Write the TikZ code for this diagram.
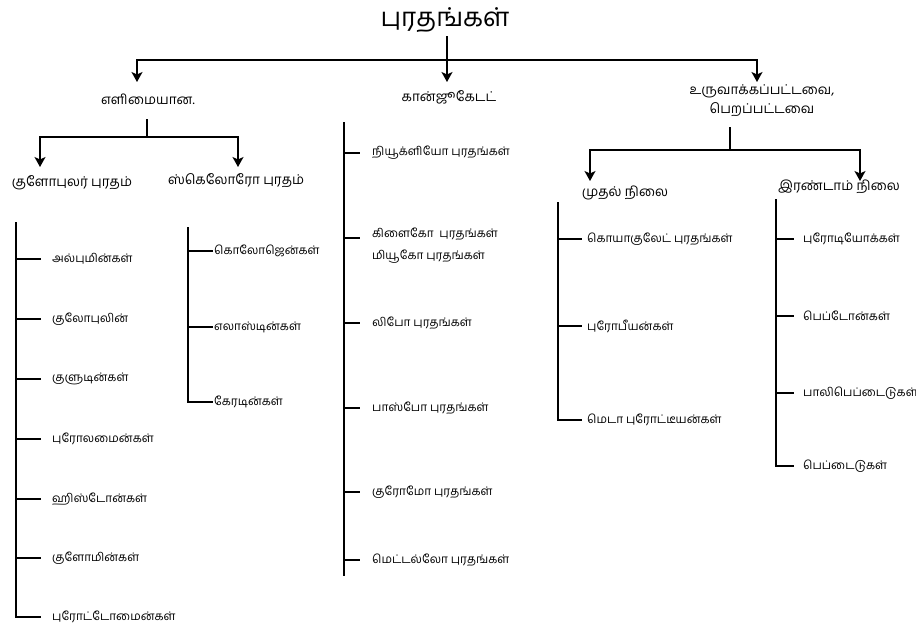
\documentclass[tikz,border=0pt]{standalone}
\usepackage{fontspec}
\newfontfamily\tamil[Script=Tamil]{Hind Madurai}
\usetikzlibrary{arrows.meta}
\begin{document}
\begin{tikzpicture}[x=1pt,y=-1pt,
  ln/.style={line width=1.2pt, line cap=rect},
  arr/.style={line width=1.2pt,-{Stealth[length=10pt,width=11pt,inset=2.5pt]}},
  lf/.style={anchor=west, inner sep=0pt, font=\tamil\fontsize{11.8}{22}\selectfont},
  hd/.style={inner sep=0pt, font=\tamil\fontsize{13.5}{19}\selectfont, align=center},
  ttl/.style={inner sep=0pt, font=\tamil\fontsize{26}{30}\selectfont}]
\useasboundingbox (0,0) rectangle (916,626);
% title
\node[ttl] (title) at (445,20) {புரதங்கள்};
\coordinate (j0) at (447,60);
\coordinate (jl) at (137,60);
\coordinate (jr) at (757,60);
\coordinate (a1) at (137,82);
\coordinate (a2) at (447,82);
\coordinate (a3) at (757,82);
\draw[ln] (title.south -| j0) ++(0,4) -- (j0);
\draw[ln] (jl) -- (jr);
\draw[arr] (jl) -- (a1);
\draw[arr] (j0) -- (a2);
\draw[arr] (jr) -- (a3);
% level 1
\node[hd] (simple) at (148,99) {எளிமையான.};
\node[hd] (conj) at (449,97) {கான்ஜூகேடட்};
\node[hd] (deriv) at (762,101) {உருவாக்கப்பட்டவை,\\பெறப்பட்டவை};
% simple subtree
\coordinate (s0) at (147,120);
\coordinate (s1) at (147,137);
\coordinate (sl) at (40,137);
\coordinate (sr) at (238,137);
\coordinate (sa) at (40,167);
\coordinate (sb) at (238,167);
\draw[ln] (s0) -- (s1);
\draw[ln] (sl) -- (sr);
\draw[arr] (sl) -- (sa);
\draw[arr] (sr) -- (sb);
\node[hd] (glob) at (72,183) {குளோபுலர் புரதம்};
\node[hd] (scl) at (236,181) {ஸ்கெலோரோ புரதம்};
% derived subtree
\coordinate (d0) at (730,128);
\coordinate (d1) at (730,150);
\coordinate (dl) at (590,150);
\coordinate (dr) at (860,150);
\coordinate (da) at (590,181);
\coordinate (db) at (860,181);
\draw[ln] (d0) -- (d1);
\draw[ln] (dl) -- (dr);
\draw[arr] (dl) -- (da);
\draw[arr] (dr) -- (db);
\node[hd] (first) at (625,193) {முதல் நிலை};
\node[hd] (second) at (839,187) {இரண்டாம் நிலை};
% globular leaves
\coordinate (gt) at (16,223);
\coordinate (gb) at (16,617);
\draw[ln] (gt) -- (gb);
\node[lf] (g1) at (52,259) {அல்புமின்கள்};
\node[lf] (g2) at (52,319) {குலோபுலின்};
\node[lf] (g3) at (52,379) {குளுடின்கள்};
\node[lf] (g4) at (52,439) {புரோலமைன்கள்};
\node[lf] (g5) at (52,499) {ஹிஸ்டோன்கள்};
\node[lf] (g6) at (52,558) {குளோமின்கள்};
\node[lf] (g7) at (52,617) {புரோட்டோமைன்கள்};
\foreach \n in {g1,g2,g3,g4,g5,g6,g7}
  \draw[ln] (gt |- \n.west) -- ([xshift=-12pt]\n.west);
% sclero leaves
\coordinate (kt) at (188,228);
\coordinate (kb) at (188,402);
\draw[ln] (kt) -- (kb);
\node[lf] (k1) at (214,251) {கொலோஜென்கள்};
\node[lf] (k2) at (214,327) {எலாஸ்டின்கள்};
\node[lf] (k3) at (214,402) {கேரடின்கள்};
\foreach \n in {k1,k2,k3}
  \draw[ln] (kt |- \n.west) -- ([xshift=-2pt]\n.west);
% conjugated leaves
\coordinate (ct) at (344,123);
\coordinate (cb) at (344,575);
\draw[ln] (ct) -- (cb);
\node[lf] (c1) at (372,153) {நியூக்ளியோ புரதங்கள்};
\node[lf, align=left] (c2) at (372,246) {கிளைகோ\ \ புரதங்கள்\\மியூகோ புரதங்கள்};
\node[lf] (c3) at (372,323) {லிபோ புரதங்கள்};
\node[lf] (c4) at (372,408) {பாஸ்போ புரதங்கள்};
\node[lf] (c5) at (372,492) {குரோமோ புரதங்கள்};
\node[lf] (c6) at (372,560) {மெட்டல்லோ புரதங்கள்};
\foreach \n in {c1,c3,c4,c5,c6}
  \draw[ln] (ct |- \n.west) -- ([xshift=-13pt]\n.west);
\draw[ln] (344,238) -- ([xshift=-13pt]c2.west |- 0,238);
% first level leaves
\coordinate (ft) at (558,203);
\coordinate (fb) at (558,420);
\draw[ln] (ft) -- (fb);
\node[lf] (f1) at (587,239) {கொயாகுலேட் புரதங்கள்};
\node[lf] (f2) at (587,326) {புரோபீயன்கள்};
\node[lf] (f3) at (587,420) {மெடா புரோட்டீயன்கள்};
\foreach \n in {f1,f2,f3}
  \draw[ln] (ft |- \n.west) -- ([xshift=-6pt]\n.west);
% second level leaves
\coordinate (et) at (776,200);
\coordinate (eb) at (776,466);
\draw[ln] (et) -- (eb);
\node[lf] (e1) at (803,239) {புரோடியோக்கள்};
\node[lf] (e2) at (803,316) {பெப்டோன்கள்};
\node[lf] (e3) at (803,393) {பாலிபெப்டைடுகள்};
\node[lf] (e4) at (803,466) {பெப்டைடுகள்};
\foreach \n in {e1,e2,e3,e4}
  \draw[ln] (et |- \n.west) -- ([xshift=-10pt]\n.west);
\end{tikzpicture}
\end{document}
